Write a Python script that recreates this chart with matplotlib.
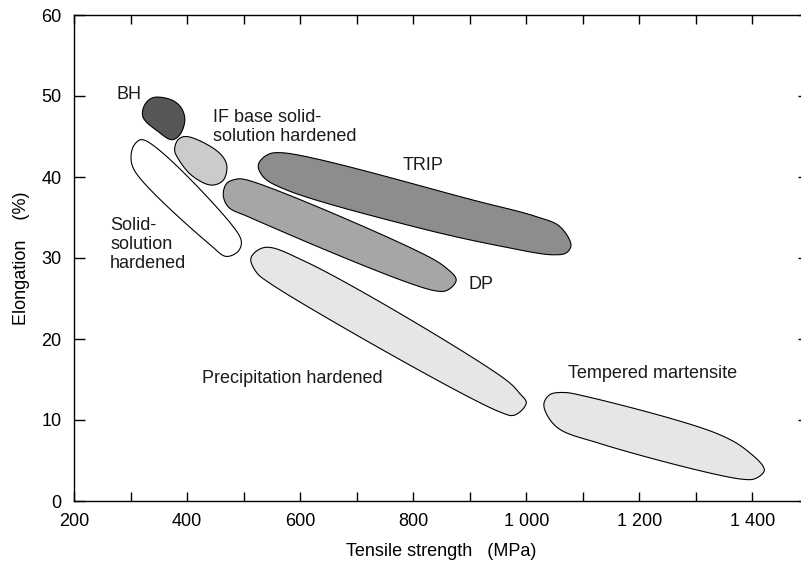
import numpy as np
import matplotlib
matplotlib.use("Agg")
import matplotlib.pyplot as plt
from matplotlib.patches import Polygon

plt.rcParams['font.family'] = ['Liberation Sans', 'DejaVu Sans']

# ---- data: outline points (tensile strength MPa, elongation %) ----
bh_x = [340, 373, 390, 396, 387, 373, 349, 322, 325]
bh_y = [49.8, 49.5, 48.5, 47.0, 45.2, 44.6, 45.6, 47.4, 48.9]

if_x = [399, 455, 470, 464, 443, 408, 384, 378, 384]
if_y = [45.0, 43.1, 41.5, 39.6, 39.0, 40.2, 42.3, 43.3, 44.6]

ss_x = [322, 479, 496, 490, 469, 443, 307, 301, 308]
ss_y = [44.6, 34.1, 32.0, 30.8, 30.2, 31.5, 40.8, 42.7, 44.1]

trip_x = [526, 541, 567, 917, 1018, 1059, 1079, 1071, 1047, 959, 811, 576, 535]
trip_y = [41.5, 42.7, 43.0, 36.95, 35.1, 33.9, 31.6, 30.65, 30.4, 31.4, 33.7, 38.4, 40.0]

dp_x = [502, 803, 856, 876, 861, 838, 508, 473, 464, 470, 485]
dp_y = [39.7, 31.0, 28.9, 27.3, 26.05, 25.96, 35.1, 36.3, 37.8, 39.2, 39.7]

ph_x = [537, 611, 965, 988, 1000, 979, 953, 546, 522, 513]
ph_y = [31.3, 29.5, 14.9, 13.3, 12.1, 10.6, 11.0, 26.9, 28.3, 30.0]

tm_x = [1031, 1041, 1065, 1106, 1336, 1389, 1421, 1406, 1383, 1129, 1053]
tm_y = [11.85, 13.1, 13.4, 12.9, 8.36, 6.3, 3.83, 2.8, 2.68, 7.12, 9.17]

regions = [
    (ss_x, ss_y, '#ffffff'),
    (bh_x, bh_y, '#575757'),
    (if_x, if_y, '#cbcbcb'),
    (trip_x, trip_y, '#8d8d8d'),
    (dp_x, dp_y, '#a6a6a6'),
    (ph_x, ph_y, '#e6e6e6'),
    (tm_x, tm_y, '#e6e6e6'),
]

labels = ['BH', 'IF base solid-\nsolution hardened', 'TRIP', 'DP',
          'Solid-\nsolution\nhardened', 'Precipitation hardened',
          'Tempered martensite']
label_x = [275, 446, 817, 919, 264, 426, 1073]
label_y = [50.2, 46.2, 41.4, 26.7, 31.7, 15.1, 15.8]
label_ha = ['left', 'left', 'center', 'center', 'left', 'left', 'left']

x_ticks = list(range(200, 1500, 100))
x_tick_labels = ['200', '', '400', '', '600', '', '800', '', '1 000', '',
                 '1 200', '', '1 400']
y_ticks = [0, 10, 20, 30, 40, 50, 60]


def centripetal_closed(P, samples=24, alpha=0.5):
    n = len(P)
    out = []
    for i in range(n):
        p0, p1, p2, p3 = P[i - 1], P[i], P[(i + 1) % n], P[(i + 2) % n]
        t0 = 0.0
        t1 = t0 + np.linalg.norm(p1 - p0) ** alpha
        t2 = t1 + np.linalg.norm(p2 - p1) ** alpha
        t3 = t2 + np.linalg.norm(p3 - p2) ** alpha
        t = np.linspace(t1, t2, samples, endpoint=False)[:, None]
        a1 = (t1 - t) / (t1 - t0) * p0 + (t - t0) / (t1 - t0) * p1
        a2 = (t2 - t) / (t2 - t1) * p1 + (t - t1) / (t2 - t1) * p2
        a3 = (t3 - t) / (t3 - t2) * p2 + (t - t2) / (t3 - t2) * p3
        b1 = (t2 - t) / (t2 - t0) * a1 + (t - t0) / (t2 - t0) * a2
        b2 = (t3 - t) / (t3 - t1) * a2 + (t - t1) / (t3 - t1) * a3
        c = (t2 - t) / (t2 - t1) * b1 + (t - t1) / (t2 - t1) * b2
        out.append(c)
    return np.vstack(out)


fig = plt.figure(figsize=(8.01, 5.62), dpi=100)
ax = fig.add_axes([74 / 801, 61 / 562, 735 / 801, 486 / 562])
ax.set_xlim(200, 1500)
ax.set_ylim(0, 60)

for xs, ys, c in regions:
    pts = ax.transData.transform(np.column_stack([xs, ys]).astype(float))
    curve = centripetal_closed(pts)
    curve_data = ax.transData.inverted().transform(curve)
    ax.add_patch(Polygon(curve_data, closed=True, facecolor=c,
                         edgecolor='black', linewidth=0.8, zorder=2))

for t, x, y, ha in zip(labels, label_x, label_y, label_ha):
    ax.text(x, y, t, ha=ha, va='center', fontsize=13, color='#1a1a1a',
            linespacing=1.15, zorder=3)

ax.set_xticks(x_ticks)
ax.set_xticklabels(x_tick_labels)
ax.tick_params(axis='x', which='major', direction='in', length=6.5,
               width=1.0, top=True, bottom=True, labelsize=13, pad=9)
ax.set_yticks(y_ticks)
ax.set_yticklabels([str(v) for v in y_ticks])
ax.tick_params(axis='y', which='major', direction='in', length=8,
               width=1.0, left=True, right=True, labelsize=13, pad=9)

for s in ax.spines.values():
    s.set_linewidth(1.0)

ax.set_xlabel('Tensile strength   (MPa)', fontsize=13, labelpad=9)
ax.set_ylabel('Elongation    (%)', fontsize=13, labelpad=8)

fig.savefig('out.png', dpi=100)
